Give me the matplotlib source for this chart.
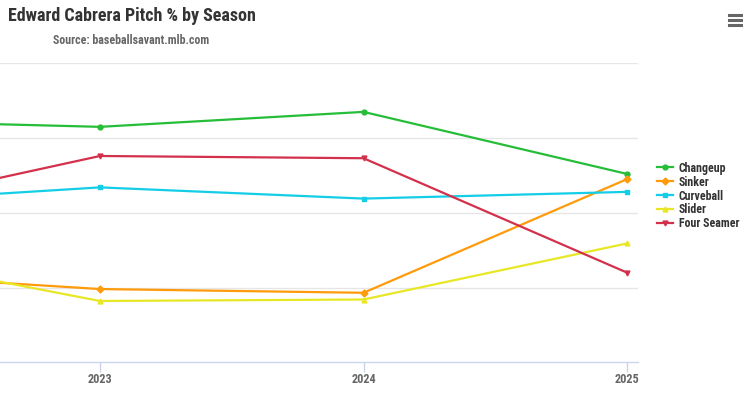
import matplotlib.pyplot as plt
from matplotlib.lines import Line2D
from matplotlib import font_manager

# pitch usage (%) per season
seasons = [2022, 2023, 2024, 2025]
changeup = [32.4, 31.5, 33.5, 25.2]
sinker = [12.0, 9.8, 9.3, 24.5]
curveball = [21.2, 23.4, 21.9, 22.8]
slider = [15.0, 8.2, 8.4, 15.9]
four_seamer = [19.9, 27.6, 27.3, 12.0]

series = [
    ('Changeup', changeup, '#26bd38', 'o'),
    ('Sinker', sinker, '#ff9b0a', 'D'),
    ('Curveball', curveball, '#14cde6', 's'),
    ('Slider', slider, '#e8e726', '^'),
    ('Four Seamer', four_seamer, '#d3304b', 'v'),
]

names = {f.name for f in font_manager.fontManager.ttflist}
fam = ['Roboto Condensed', 'Barlow Condensed', 'Asap Condensed', 'Roboto', 'DejaVu Sans']
fam = [f for f in fam if f in names] or ['DejaVu Sans']
plt.rcParams['font.family'] = fam

fig = plt.figure(figsize=(7.43, 3.93), dpi=100)
ax = fig.add_axes([0, 30.7 / 393, 637.7 / 743, (362.3 - 63.3) / 393])

for name, vals, col, mk in series:
    ax.plot(seasons, vals, color=col, lw=1.6, marker=mk, ms=3.5, label=name,
            solid_joinstyle='round')

ax.set_xlim(2023 - 100 / 263.5, 2025 + 10.7 / 263.5)
ax.set_ylim(0, 40)
ax.set_yticks([10, 20, 30, 40])
ax.yaxis.grid(True, color='#e6e6e6', lw=1)
ax.set_axisbelow(True)
ax.tick_params(axis='y', left=False, labelleft=False)
ax.set_xticks([2023, 2024, 2025])
ax.set_xticklabels(['2023', '2024', '2025'], fontsize=8.8, fontweight='bold', color='#666666')
ax.tick_params(axis='x', length=7.5, color='#ccd6eb', width=1, pad=0)
for s in ['top', 'right', 'left']:
    ax.spines[s].set_visible(False)
ax.spines['bottom'].set_color('#ccd6eb')
ax.spines['bottom'].set_linewidth(1)

fig.text(8 / 743, 1 - 16 / 393, 'Edward Cabrera Pitch % by Season', fontsize=13,
         fontweight='bold', color='#333333', va='center', ha='left')
fig.text(131 / 743, 1 - 40 / 393, 'Source: baseballsavant.mlb.com', fontsize=8.6,
         fontweight='bold', color='#666666', va='center', ha='center')

leg = fig.legend(loc='center left', bbox_to_anchor=(652 / 743, 1 - 196 / 393),
                 frameon=False, handlelength=1.35, handletextpad=0.5,
                 labelspacing=0.08, prop={'size': 8.6, 'weight': 'bold'},
                 borderaxespad=0, borderpad=0.4)
for t in leg.get_texts():
    t.set_color('#333333')

# hamburger menu icon
for yy in [15, 20, 25]:
    fig.add_artist(Line2D([729 / 743, 743 / 743], [1 - yy / 393] * 2,
                          color='#666666', lw=2.2, transform=fig.transFigure))

fig.savefig('out.png', dpi=100)
